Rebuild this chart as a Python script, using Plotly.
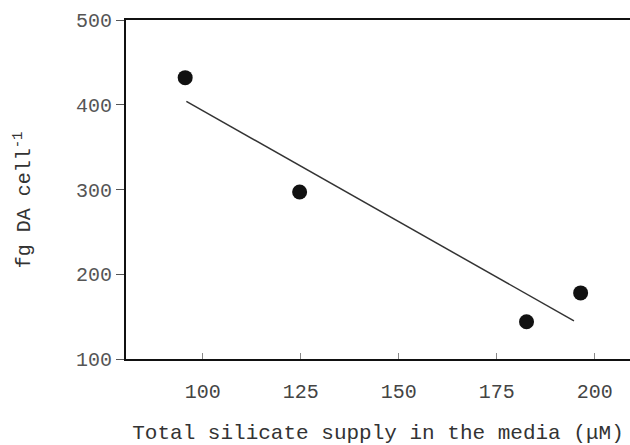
import plotly.graph_objects as go

silicate = [95.5, 124.7, 182.6, 196.4]
da_per_cell = [432, 297, 144, 178]
fit_x = [95.8, 194.7]
fit_y = [404, 145]
x_ticks = [100, 125, 150, 175, 200]
y_ticks = [100, 200, 300, 400, 500]

font_family = "Liberation Mono, DejaVu Sans Mono, monospace"

fig = go.Figure()
fig.add_trace(go.Scatter(x=fit_x, y=fit_y, mode="lines",
                         line=dict(color="#333333", width=1.5),
                         showlegend=False, hoverinfo="skip"))
fig.add_trace(go.Scatter(x=silicate, y=da_per_cell, mode="markers",
                         marker=dict(color="#111111", size=15),
                         showlegend=False))

fig.update_layout(
    width=630, height=445,
    margin=dict(l=126, r=0, t=20, b=86),
    paper_bgcolor="white", plot_bgcolor="white",
    font=dict(family=font_family, color="#444444"),
    xaxis=dict(range=[80.4, 209], tickvals=x_ticks, ticks="inside", ticklen=6,
               tickcolor="#888888", showline=True, linecolor="#111111", linewidth=2,
               mirror=True, showgrid=False, zeroline=False,
               tickfont=dict(size=20, color="#444444"), ticklabelstandoff=13,
               title=dict(text="Total silicate supply in the media (μM)",
                          font=dict(size=21, color="#333333"), standoff=22)),
    yaxis=dict(range=[100, 500], tickvals=y_ticks, ticks="outside", ticklen=8,
               tickcolor="#555555", showline=True, linecolor="#111111", linewidth=2,
               showgrid=False, zeroline=False,
               tickfont=dict(size=20, color="#555555"), ticklabelstandoff=0),
    annotations=[dict(text="fg DA cell<sup>-1</sup>", textangle=-90,
                      xref="paper", yref="paper", x=-0.205, y=0.47,
                      xanchor="center", yanchor="middle", showarrow=False,
                      font=dict(size=20, color="#333333"))],
)

fig.write_html("out.html")
